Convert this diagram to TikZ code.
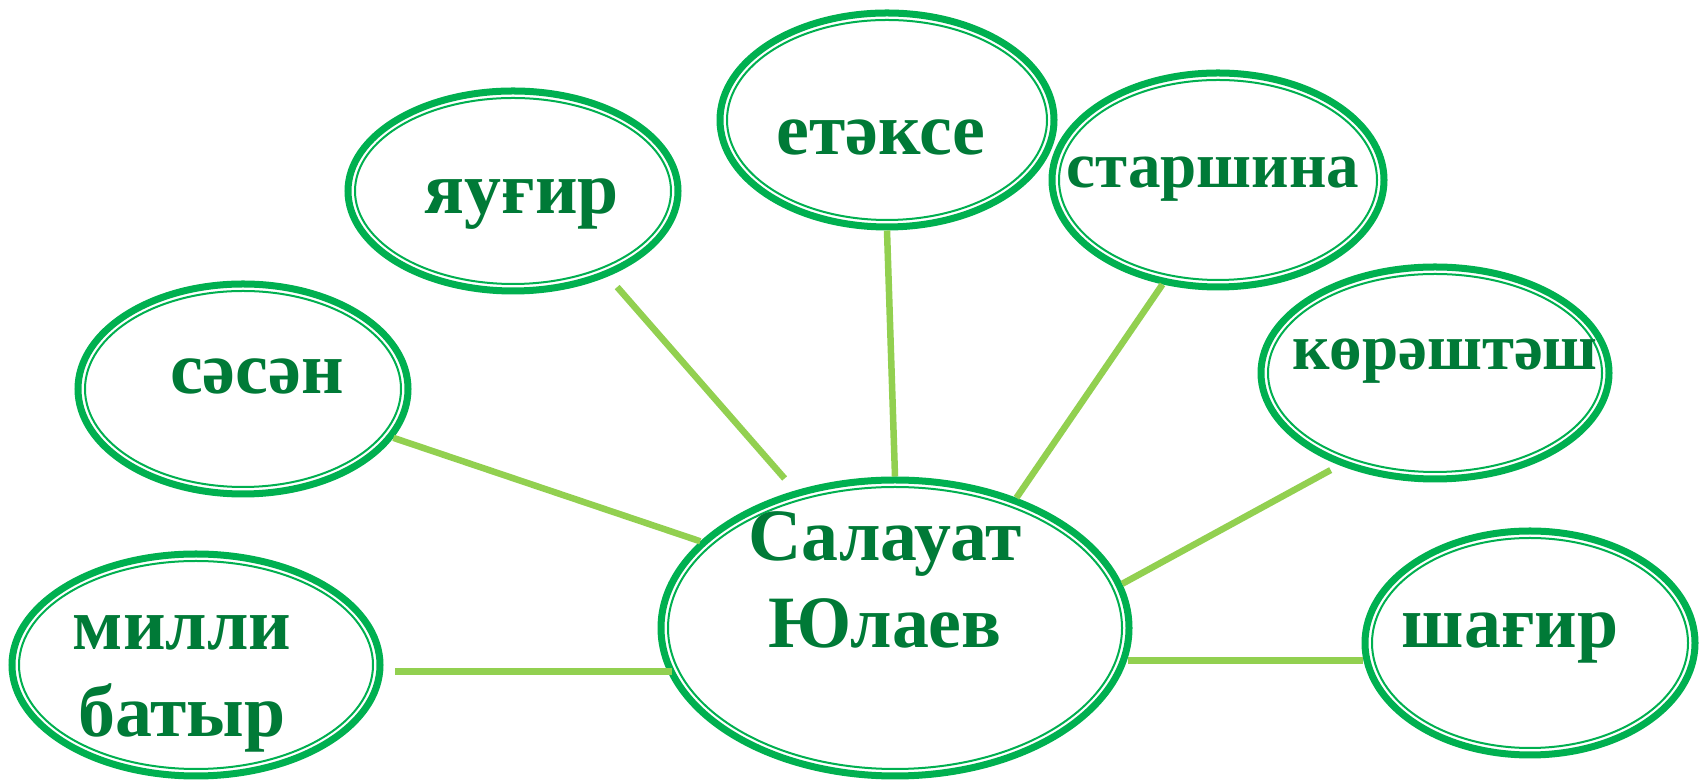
\documentclass[tikz,border=0pt]{standalone}
\usepackage{fontspec}
\setmainfont{Liberation Serif}
\usepackage{tikz}
\usetikzlibrary{shapes.geometric}
\definecolor{ringgreen}{RGB}{0,176,80}
\definecolor{wordgreen}{RGB}{0,122,55}
\definecolor{linkgreen}{RGB}{146,208,80}
\tikzset{
  ring/.style={ellipse, draw=ringgreen, line width=0.07cm, inner sep=0pt},
  ringin/.style={draw=ringgreen, line width=0.02cm},
  word/.style={text=wordgreen, font=\bfseries\fontsize{21pt}{24.8pt}\selectfont, inner sep=0pt, anchor=base, align=center},
  small/.style={font=\bfseries\fontsize{18.5pt}{22pt}\selectfont},
  link/.style={draw=linkgreen, line width=0.065cm}
}
\def\oval(#1)(#2)(#3:#4){\node[ring, minimum width={2*#3*0.01cm}, minimum height={2*#4*0.01cm}] (#1) at (#2) {};
  \draw[ringin] (#1.center) ellipse [x radius={(#3-7)*0.01cm}, y radius={(#4-7)*0.01cm}];}

\begin{document}
\begin{tikzpicture}[x=0.01cm, y=-0.01cm]
			%%%%% START %%%%%
			\useasboundingbox (0, 0) rectangle (1703, 783);
			
			\oval(sesen)(243, 389)(165:105)
			\oval(yaugir)(513, 191)(165:100)
			\oval(etekse)(887, 120)(167:107)
			\oval(starshina)(1218, 180)(166:107)
			\oval(koreshtesh)(1435, 373)(174:106)
			\oval(shagir)(1530, 643)(165:112)
			\oval(milli)(196, 665)(184:111)
			\oval(salauat)(895, 628)(234:148)
			
			\node[word] (tsesen) at (257, 394) {сәсән};
			\node[word] (tyaugir) at (522, 214) {яуғир};
			\node[word] (tetekse) at (881, 155) {етәксе};
			\node[word, small] (tstarshina) at (1213, 188) {старшина};
			\node[word, small] (tkoreshtesh) at (1445, 370) {көрәштәш};
			\node[word] (tshagir) at (1510, 648) {шағир};
			\node[word] (tmilli) at (182, 737) {милли\\батыр};
			\node[word] (tsalauat) at (885, 648) {Салауат\\Юлаев};
			
			% connectors
			\draw[link] (sesen.-18.8) -- (salauat.156.5);
			\draw[link, shorten <=0.14cm, shorten >=0.16cm] (yaugir.-42.9) -- (salauat.126.9);
			\draw[link] (etekse.-90) -- (salauat.90);
			\draw[link] (starshina.-118.1) -- (salauat.47.5);
			\draw[link, shorten <=0.1cm] (koreshtesh.-136.8) -- (salauat.11.4);
			\draw[link] (salauat.-7.5 |- shagir.-174.5) -- (shagir.-174.5);
			\draw[link, shorten <=0.12cm] (milli.-2.6) -- (salauat.-167.2 |- milli.-2.6);
			%%%%% END %%%%%
\end{tikzpicture}
\end{document}
